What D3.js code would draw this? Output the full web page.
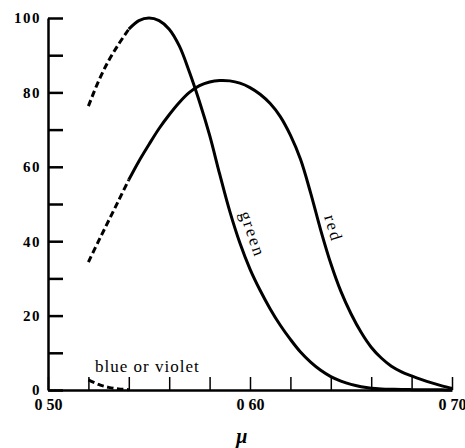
<!DOCTYPE html>
<html lang="en">
<head>
    <meta charset="UTF-8">
    <title>Cone sensitivity curves</title>
    <style>
        body { margin: 0; background: #fff; }
        svg { display: block; }
        .tick text { font-family: "Liberation Serif", "DejaVu Serif", serif; }
    </style>
</head>
<body>
    <div id="stage"></div>

    <script src="https://d3js.org/d3.v7.min.js"></script>
    <script>
        // wavelength in microns
        const wavelengths = [0.520, 0.525, 0.530, 0.535, 0.540, 0.545, 0.550, 0.555, 0.560, 0.565,
                             0.570, 0.575, 0.580, 0.585, 0.590, 0.595, 0.600, 0.605, 0.610, 0.615,
                             0.620, 0.625, 0.630, 0.635, 0.640, 0.645, 0.650, 0.655, 0.660, 0.665,
                             0.670, 0.675, 0.680, 0.685, 0.690, 0.695, 0.700];

        const greenValues = [76.3, 83, 88.5, 93, 97, 99.3, 100, 99.3, 97, 92.5,
                             85.5, 77.5, 68.5, 58, 48, 39.5, 32.5, 26.8, 21.8, 17.4,
                             13.6, 10.2, 7.5, 5.3, 3.6, 2.4, 1.5, 0.9, 0.5, 0.3,
                             0.2, 0.15, 0.1, 0.1, 0.05, 0.05, 0];

        const redValues = [34.4, 40, 45.5, 51, 56.5, 61.5, 66, 70.3, 74, 77.3,
                           80, 81.8, 82.8, 83.2, 83.1, 82.5, 81.3, 79.5, 77, 73.5,
                           68.5, 62, 53, 43, 34, 26.5, 20.5, 15.5, 11.5, 8.6,
                           6.4, 4.9, 3.8, 2.8, 1.9, 1.1, 0.4];

        const blueWavelengths = [0.520, 0.525, 0.530, 0.535, 0.540];
        const blueValues = [2.7, 1.5, 0.7, 0.3, 0.1];

        // measured part ends here, dashed before
        const dashedUntil = 0.540;

        const yTicks = [0, 10, 20, 30, 40, 50, 60, 70, 80, 90, 100];
        const yLabels = { 0: '0', 20: '20', 40: '40', 60: '60', 80: '80', 100: '100' };
        const xTicks = [0.50, 0.52, 0.54, 0.56, 0.58, 0.60, 0.62, 0.64, 0.66, 0.68, 0.70];
        const xLabels = { '0.5': '0 50', '0.6': '0 60', '0.7': '0 70' };

        const width = 465, height = 448;

        const svg = d3.select('#stage').append('svg')
            .attr('width', width)
            .attr('height', height);

        const x = d3.scaleLinear().domain([0.50, 0.70]).range([48, 452]);
        const y = d3.scaleLinear().domain([0, 100]).range([390, 18]);

        // y axis, ticks pointing inward
        const yAxis = d3.axisLeft(y)
            .tickValues(yTicks)
            .tickSizeInner(-15)
            .tickSizeOuter(0)
            .tickPadding(7)
            .tickFormat(d => yLabels[d] || '');

        const gy = svg.append('g')
            .attr('transform', `translate(${x(0.50)},0)`)
            .call(yAxis);
        gy.select('.domain').attr('stroke-width', 2.5);
        gy.selectAll('.tick line').attr('stroke-width', 2.5);
        gy.selectAll('.tick text')
            .attr('font-size', 15)
            .attr('font-weight', 'bold')
            .attr('letter-spacing', 1.5)
            .attr('fill', '#000');

        // x axis
        const xAxis = d3.axisBottom(x)
            .tickValues(xTicks)
            .tickSizeInner(-13)
            .tickSizeOuter(0)
            .tickPadding(9)
            .tickFormat(d => xLabels[String(Math.round(d * 100) / 100)] || '');

        const gx = svg.append('g')
            .attr('transform', `translate(0,${y(0)})`)
            .call(xAxis);
        gx.select('.domain').attr('stroke-width', 2.5);
        gx.selectAll('.tick line').attr('stroke-width', 1.5);
        gx.selectAll('.tick text')
            .attr('font-size', 16)
            .attr('font-weight', 'bold')
            .attr('fill', '#000');

        const line = d3.line()
            .x(d => x(d[0]))
            .y(d => y(d[1]))
            .curve(d3.curveCatmullRom.alpha(0.5));

        function drawCurve(xs, vs) {
            const pts = xs.map((w, i) => [w, vs[i]]);
            const dashed = pts.filter(p => p[0] <= dashedUntil + 1e-9);
            const solid = pts.filter(p => p[0] >= dashedUntil - 1e-9);
            svg.append('path')
                .datum(dashed)
                .attr('d', line)
                .attr('fill', 'none')
                .attr('stroke', '#000')
                .attr('stroke-width', 3)
                .attr('stroke-dasharray', '6.5,3.5');
            if (solid.length > 1) {
                svg.append('path')
                    .datum(solid)
                    .attr('d', line)
                    .attr('fill', 'none')
                    .attr('stroke', '#000')
                    .attr('stroke-width', 3);
            }
        }

        drawCurve(wavelengths, greenValues);
        drawCurve(wavelengths, redValues);
        drawCurve(blueWavelengths, blueValues);

        // curve labels
        const labelFont = '"Liberation Serif", "DejaVu Serif", serif';
        svg.append('text')
            .attr('transform', `translate(${x(0.5987)},${y(41.4)}) rotate(71)`)
            .attr('text-anchor', 'middle')
            .attr('font-family', labelFont)
            .attr('font-size', 17)
            .attr('letter-spacing', 2)
            .text('green');
        svg.append('text')
            .attr('transform', `translate(${x(0.6386)},${y(43)}) rotate(73)`)
            .attr('text-anchor', 'middle')
            .attr('font-family', labelFont)
            .attr('font-size', 17)
            .attr('letter-spacing', 2)
            .text('red');
        svg.append('text')
            .attr('x', x(0.5233))
            .attr('y', y(4.8))
            .attr('font-family', labelFont)
            .attr('font-size', 17)
            .attr('letter-spacing', 1)
            .text('blue or violet');

        // unit label
        svg.append('text')
            .attr('x', x(0.596))
            .attr('y', 443)
            .attr('text-anchor', 'middle')
            .attr('font-family', labelFont)
            .attr('font-size', 20)
            .attr('font-style', 'italic')
            .attr('font-weight', 'bold')
            .text('μ');
    </script>
</body>
</html>
